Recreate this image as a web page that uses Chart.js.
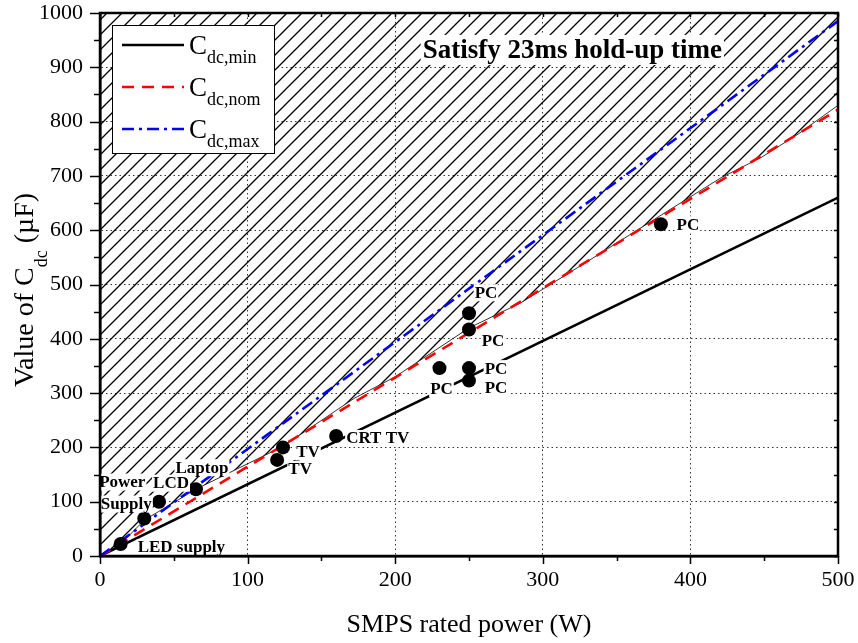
<!DOCTYPE html>
<html>
<head>
<meta charset="utf-8">
<script src="https://cdn.jsdelivr.net/npm/chart.js@4/dist/chart.umd.min.js"></script>
<style>
html,body{margin:0;padding:0;background:#fff;}
#wrap{width:858px;height:643px;}
</style>
</head>
<body>
<div id="wrap"><canvas id="c" width="858" height="643"></canvas></div>
<script>
// ---- data ----
const lineX = [0, 500];
const cdcMin = [0, 660];
const cdcNom = [0, 822];
const cdcMax = [0, 985];
const boundX = [0, 14, 30, 65, 124, 172, 200, 250, 285, 330, 385, 421, 448, 473, 500];
const boundY = [0, 22, 66, 123, 202, 290, 330, 420, 466, 542, 636, 697, 734, 777, 830];
const pointX = [14, 30, 40, 65, 120, 124, 160, 230, 250, 250, 250, 250, 380];
const pointY = [22, 69, 100, 123, 177, 200, 221, 346, 447, 417, 346, 323, 611];
const xTicks = [0, 100, 200, 300, 400, 500];
const yTicks = [0, 100, 200, 300, 400, 500, 600, 700, 800, 900, 1000];
const seriesNames = ['dc,min', 'dc,nom', 'dc,max'];
const xTitle = 'SMPS rated power (W)';
const yTitleParts = ['Value of C', 'dc', ' (\u00B5F)'];
const regionText = 'Satisfy 23ms hold-up time';
// point labels: [point index, text]
const pointLabels = [
  [0, 'LED supply'], [1, 'Power'], [1, 'Supply'], [2, 'LCD'], [3, 'Laptop'],
  [5, 'TV'], [4, 'TV'], [6, 'CRT TV'], [8, 'PC'], [9, 'PC'], [10, 'PC'],
  [11, 'PC'], [7, 'PC'], [12, 'PC']
];
// label placement (pixel offsets from the point; style only)
const labelPlace = [
  {dx: 17, dy: 3, align: 'left'}, {dx: -22, dy: -37, align: 'center'},
  {dx: -18, dy: -15, align: 'center'}, {dx: 12, dy: -19, align: 'center'},
  {dx: 6, dy: -22, align: 'center'}, {dx: 25, dy: 4, align: 'center'},
  {dx: 23, dy: 9, align: 'center'}, {dx: 10, dy: 2, align: 'left'},
  {dx: 17, dy: -21, align: 'center'}, {dx: 24, dy: 11, align: 'center'},
  {dx: 27, dy: 0, align: 'center'}, {dx: 27, dy: 7, align: 'center'},
  {dx: 2, dy: 20, align: 'center'}, {dx: 27, dy: 0, align: 'center'}
];

const toXY = (xs, ys) => xs.map((x, i) => ({x: x, y: ys[i]}));

function makeHatch() {
  const c = document.createElement('canvas');
  c.width = 15; c.height = 15;
  const g = c.getContext('2d');
  g.strokeStyle = '#000';
  g.lineWidth = 1.3;
  g.beginPath();
  g.moveTo(0, 15); g.lineTo(15, 0);
  g.moveTo(-3, 3); g.lineTo(3, -3);
  g.moveTo(12, 18); g.lineTo(18, 12);
  g.stroke();
  return g.createPattern(c, 'repeat');
}

const SERIF = '"Liberation Serif", "Times New Roman", serif';

const decor = {
  id: 'decor',
  afterDatasetsDraw(chart) {
    const ctx = chart.ctx, xs = chart.scales.x, ys = chart.scales.y;
    ctx.save();
    ctx.font = 'bold 17px ' + SERIF;
    ctx.textBaseline = 'middle';
    pointLabels.forEach((lab, k) => {
      const p = labelPlace[k];
      const px = xs.getPixelForValue(pointX[lab[0]]) + p.dx;
      const py = ys.getPixelForValue(pointY[lab[0]]) + p.dy;
      const w = ctx.measureText(lab[1]).width;
      const left = p.align === 'left' ? px : px - w / 2;
      ctx.fillStyle = '#fff';
      ctx.fillRect(left - 1, py - 8, w + 2, 17);
      ctx.fillStyle = '#000';
      ctx.textAlign = 'left';
      ctx.fillText(lab[1], left, py + 1);
    });
    // region text
    ctx.font = 'bold 27px ' + SERIF;
    const tx = xs.getPixelForValue(320), ty = ys.getPixelForValue(932);
    const tw = ctx.measureText(regionText).width;
    ctx.fillStyle = '#fff';
    ctx.fillRect(tx - tw / 2 - 2, ty - 15, tw + 4, 30);
    ctx.fillStyle = '#000';
    ctx.textAlign = 'center';
    ctx.fillText(regionText, tx, ty + 1);
    ctx.restore();
  },
  afterDraw(chart) {
    const ctx = chart.ctx, a = chart.chartArea, xs = chart.scales.x, ys = chart.scales.y;
    ctx.save();
    ctx.strokeStyle = '#000';
    // ticks
    ctx.lineWidth = 1.5;
    ctx.beginPath();
    for (let v = 0; v <= 500; v += 50) {
      const px = Math.round(xs.getPixelForValue(v)) + 0.5;
      const len = v % 100 === 0 ? 8 : 5;
      ctx.moveTo(px, a.bottom); ctx.lineTo(px, a.bottom + len);
      ctx.moveTo(px, a.top); ctx.lineTo(px, a.top + 4);
    }
    for (let v = 0; v <= 1000; v += 50) {
      const py = Math.round(ys.getPixelForValue(v)) + 0.5;
      const len = v % 100 === 0 ? 10 : 6;
      ctx.moveTo(a.left, py); ctx.lineTo(a.left - len, py);
      ctx.moveTo(a.right, py); ctx.lineTo(a.right - 4, py);
    }
    ctx.stroke();
    // frame
    ctx.lineWidth = 2.5;
    ctx.strokeRect(a.left, a.top, a.right - a.left, a.bottom - a.top);
    // legend
    const lx = a.left + 12, ly = a.top + 12, lw = 162, lh = 128;
    ctx.fillStyle = '#fff';
    ctx.fillRect(lx, ly, lw, lh);
    ctx.lineWidth = 1;
    ctx.strokeRect(lx + 0.5, ly + 0.5, lw, lh);
    const styles = [
      {c: '#000', d: []}, {c: '#ff0000', d: [12, 8]}, {c: '#0000ff', d: [12, 5, 3, 5]}
    ];
    seriesNames.forEach((nm, i) => {
      const yy = ly + 20 + i * 42;
      ctx.strokeStyle = styles[i].c;
      ctx.lineWidth = 2.5;
      ctx.setLineDash(styles[i].d);
      ctx.beginPath(); ctx.moveTo(lx + 10, yy); ctx.lineTo(lx + 72, yy); ctx.stroke();
      ctx.setLineDash([]);
      ctx.fillStyle = '#000';
      ctx.textAlign = 'left';
      ctx.textBaseline = 'alphabetic';
      ctx.font = '27px ' + SERIF;
      ctx.fillText('C', lx + 77, yy + 9);
      const cw = ctx.measureText('C').width;
      ctx.font = '18px ' + SERIF;
      ctx.fillText(nm, lx + 77 + cw, yy + 18);
    });
    // axis titles
    ctx.fillStyle = '#000';
    ctx.font = '26px ' + SERIF;
    ctx.textAlign = 'center';
    ctx.textBaseline = 'middle';
    ctx.fillText(xTitle, (a.left + a.right) / 2, 625);
    ctx.translate(23, 290);
    ctx.rotate(-Math.PI / 2);
    const big = '28px ' + SERIF, small = '18px ' + SERIF;
    ctx.font = big;
    const w0 = ctx.measureText(yTitleParts[0]).width;
    ctx.font = small;
    const w1 = ctx.measureText(yTitleParts[1]).width;
    ctx.font = big;
    const w2 = ctx.measureText(yTitleParts[2]).width;
    let x0 = -(w0 + w1 + w2) / 2;
    ctx.textAlign = 'left';
    ctx.textBaseline = 'alphabetic';
    ctx.fillText(yTitleParts[0], x0, 10);
    ctx.font = small;
    ctx.fillText(yTitleParts[1], x0 + w0, 24);
    ctx.font = big;
    ctx.fillText(yTitleParts[2], x0 + w0 + w1, 10);
    ctx.restore();
  }
};

const gridColor = (c) => (c.tick && c.tick.value % 100 === 0) ? '#333' : 'rgba(0,0,0,0)';
const zeroPad = (s) => { s.paddingTop = 0; s.paddingBottom = 0; s.paddingLeft = 0; s.paddingRight = 0; };

new Chart(document.getElementById('c'), {
  type: 'line',
  data: {
    datasets: [
      {data: toXY(boundX, boundY), borderColor: '#000', borderWidth: 0.8, fill: 'end',
       backgroundColor: makeHatch(), pointRadius: 0, order: 5, tension: 0},
      {data: toXY(lineX, cdcMin), borderColor: '#000', borderWidth: 2.6, pointRadius: 0, fill: false, order: 3},
      {data: toXY(lineX, cdcNom), borderColor: '#ff0000', borderWidth: 2.6, borderDash: [12, 8], pointRadius: 0, fill: false, order: 2},
      {data: toXY(lineX, cdcMax), borderColor: '#0000ff', borderWidth: 2.6, borderDash: [12, 5, 3, 5], pointRadius: 0, fill: false, order: 1},
      {data: toXY(pointX, pointY), showLine: false, pointRadius: 7, pointBackgroundColor: '#000', pointBorderColor: '#000', pointBorderWidth: 0, order: 0}
    ]
  },
  options: {
    responsive: false,
    animation: false,
    layout: {autoPadding: false, padding: {left: 0, top: 13, right: 20, bottom: 0}},
    plugins: {legend: {display: false}, tooltip: {enabled: false}},
    scales: {
      x: {
        type: 'linear', min: 0, max: 500,
        afterBuildTicks: (s) => { s.ticks = xTicks.map(v => ({value: v})); },
        afterFit: (s) => { s.height = 87; zeroPad(s); },
        grid: {color: gridColor, lineWidth: 1, drawTicks: false},
        border: {display: true, color: '#000', width: 2.5, dash: [1.5, 3]},
        ticks: {padding: 11, color: '#000', font: {family: SERIF, size: 22}, maxRotation: 0,
                callback: (v) => String(v)}
      },
      y: {
        type: 'linear', min: 0, max: 1000,
        afterBuildTicks: (s) => { s.ticks = yTicks.map(v => ({value: v})); },
        afterFit: (s) => { s.width = 100; zeroPad(s); },
        grid: {color: gridColor, lineWidth: 1, drawTicks: false},
        border: {display: true, color: '#000', width: 2.5, dash: [1.5, 3]},
        ticks: {padding: 17, color: '#000', font: {family: SERIF, size: 22},
                callback: (v) => String(v)}
      }
    }
  },
  plugins: [decor]
});
</script>
</body>
</html>
